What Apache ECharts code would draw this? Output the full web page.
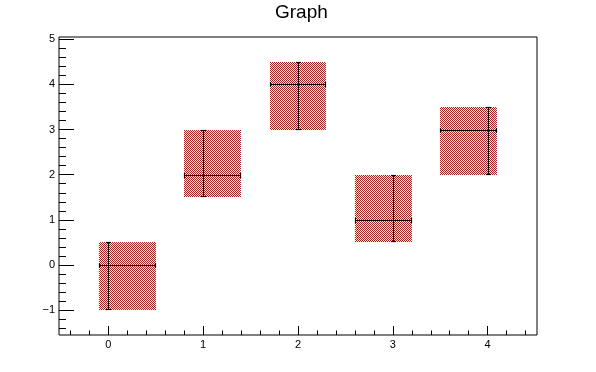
<!DOCTYPE html>
<html>
<head>
<meta charset="utf-8">
<script src="https://cdn.jsdelivr.net/npm/echarts@6/dist/echarts.min.js"></script>
<style>html,body{margin:0;padding:0;background:#fff;}#c{width:596px;height:372px;}</style>
</head>
<body>
<div id="c"></div>
<script>
// Data
const xs  = [0, 1, 2, 3, 4];
const ys  = [0, 2, 4, 1, 3];
const exl = [0.1, 0.2, 0.3, 0.4, 0.5];
const exh = [0.5, 0.4, 0.3, 0.2, 0.1];
const eyl = [1, 0.5, 1, 0.5, 1];
const eyh = [0.5, 1, 0.5, 1, 0.5];
const xTicks = [0, 1, 2, 3, 4];
const yTicks = [-1, 0, 1, 2, 3, 4, 5];
const xRange = [-0.52, 4.52];
const yRange = [-1.55, 5.05];
const minorStep = 0.2;

function minorTicks(range, majors) {
  const out = [];
  const start = Math.ceil(range[0] / minorStep - 1e-9);
  const end = Math.floor(range[1] / minorStep + 1e-9);
  for (let k = start; k <= end; k++) {
    const v = +(k * minorStep).toFixed(6);
    if (!majors.some(m => Math.abs(m - v) < 1e-6)) out.push(v);
  }
  return out;
}

const pc = document.createElement('canvas');
pc.width = 2; pc.height = 2;
const pctx = pc.getContext('2d');
pctx.fillStyle = '#ffffff'; pctx.fillRect(0, 0, 2, 2);
pctx.fillStyle = '#ff0000'; pctx.fillRect(0, 0, 1, 1); pctx.fillRect(1, 1, 1, 1);
const pattern = { image: pc, repeat: 'repeat' };

const data = xs.map((x, i) => [x, ys[i], exl[i], exh[i], eyl[i], eyh[i]]);
const fmt = v => (v < 0 ? '\u2212' + (-v) : String(v));
const labelFont = { fontFamily: 'Liberation Sans, Arial, sans-serif', fontSize: 11, color: '#000' };
const axisBase = { type: 'value', axisLine: { show: false, onZero: false }, splitLine: { show: false } };

const chart = echarts.init(document.getElementById('c'), null, { renderer: 'canvas', devicePixelRatio: 1 });
chart.setOption({
  animation: false,
  backgroundColor: '#fff',
  title: {
    text: 'Graph', left: 275, top: 3, padding: 0,
    textStyle: { fontFamily: 'Liberation Sans, Arial, sans-serif', fontSize: 19, fontWeight: 'normal', color: '#000' }
  },
  grid: [{ left: 59, right: 59, top: 37, bottom: 37, show: true, borderColor: '#000', borderWidth: 1, backgroundColor: 'transparent' }],
  xAxis: [
    Object.assign({}, axisBase, { min: xRange[0], max: xRange[1], position: 'bottom',
      axisTick: { inside: true, length: 9, lineStyle: { color: '#000' }, customValues: xTicks },
      axisLabel: Object.assign({ margin: 4, formatter: fmt, customValues: xTicks }, labelFont) }),
    Object.assign({}, axisBase, { min: xRange[0], max: xRange[1], position: 'bottom',
      axisTick: { inside: true, length: 4.5, lineStyle: { color: '#000' }, customValues: minorTicks(xRange, xTicks) },
      axisLabel: { show: false } })
  ],
  yAxis: [
    Object.assign({}, axisBase, { min: yRange[0], max: yRange[1], position: 'left',
      axisTick: { inside: true, length: 15, lineStyle: { color: '#000' }, customValues: yTicks },
      axisLabel: Object.assign({ margin: 4, formatter: fmt, customValues: yTicks }, labelFont) }),
    Object.assign({}, axisBase, { min: yRange[0], max: yRange[1], position: 'left',
      axisTick: { inside: true, length: 7, lineStyle: { color: '#000' }, customValues: minorTicks(yRange, yTicks) },
      axisLabel: { show: false } })
  ],
  series: [{
    type: 'custom',
    xAxisIndex: 0, yAxisIndex: 0,
    data: data,
    encode: { x: 0, y: 1 },
    renderItem: function (params, api) {
      const x = api.value(0), y = api.value(1);
      const el = api.value(2), eh = api.value(3), dl = api.value(4), dh = api.value(5);
      const tl = api.coord([x - el, y + dh]);
      const br = api.coord([x + eh, y - dl]);
      const c = api.coord([x, y]);
      const cx = Math.round(c[0]) + 0.5, cy = Math.round(c[1]) + 0.5;
      const x0 = Math.round(tl[0]), x1 = Math.round(br[0]);
      const y0 = Math.round(tl[1]), y1 = Math.round(br[1]);
      const ls = { stroke: '#000', lineWidth: 1.2 };
      const cap = 2.5;
      return {
        type: 'group',
        children: [
          { type: 'rect', shape: { x: x0, y: y0, width: x1 - x0, height: y1 - y0 }, style: { fill: pattern } },
          { type: 'line', shape: { x1: x0, y1: cy, x2: x1, y2: cy }, style: ls },
          { type: 'line', shape: { x1: cx, y1: y0, x2: cx, y2: y1 }, style: ls },
          { type: 'line', shape: { x1: x0 + 0.5, y1: cy - cap, x2: x0 + 0.5, y2: cy + cap }, style: ls },
          { type: 'line', shape: { x1: x1 - 0.5, y1: cy - cap, x2: x1 - 0.5, y2: cy + cap }, style: ls },
          { type: 'line', shape: { x1: cx - cap, y1: y0 + 0.5, x2: cx + cap, y2: y0 + 0.5 }, style: ls },
          { type: 'line', shape: { x1: cx - cap, y1: y1 - 0.5, x2: cx + cap, y2: y1 - 0.5 }, style: ls }
        ]
      };
    }
  }]
});
</script>
</body>
</html>
